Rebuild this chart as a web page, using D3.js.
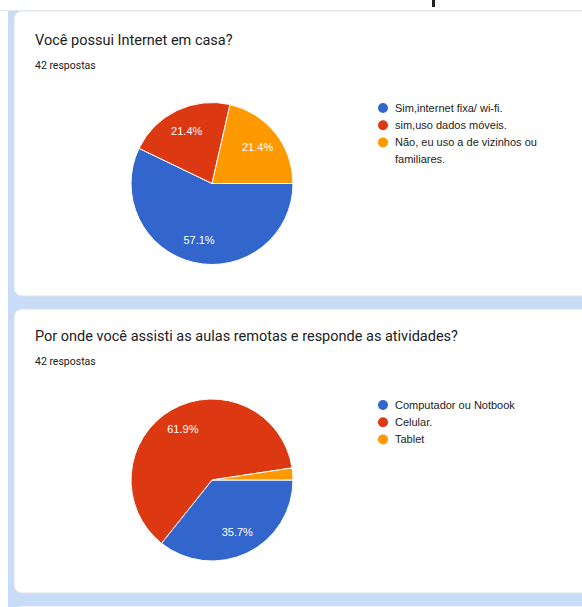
<!DOCTYPE html>
<html>
<head>
<meta charset="utf-8">
<script src="https://cdn.jsdelivr.net/npm/d3@7"></script>
<style>
  html, body { margin: 0; padding: 0; background: #ffffff; }
  svg { display: block; }
</style>
</head>
<body>
<svg id="chart" width="582" height="607"></svg>
<script>
// Survey answers (42 respostas each)
const titles = [
  "Você possui Internet em casa?",
  "Por onde você assisti as aulas remotas e responde as atividades?"
];
const responseLabel = "42 respostas";

const categoriesInternet = [
  ["Sim,internet fixa/ wi-fi."],
  ["sim,uso dados móveis."],
  ["Não, eu uso a de vizinhos ou", "familiares."]
];
const countsInternet = [24, 9, 9];

const categoriesDevice = [
  ["Computador ou Notbook"],
  ["Celular."],
  ["Tablet"]
];
const countsDevice = [15, 26, 1];

const palette = ["#3366cc", "#dc3912", "#ff9900"];

const svg = d3.select("#chart");
const W = 582, H = 607;

// page background and cards
svg.append("rect").attr("x", 8).attr("y", 11).attr("width", W).attr("height", H)
  .attr("fill", "#c9dcf7");

const cards = [
  { y: 11, h: 285 },
  { y: 309, h: 284 },
  { y: 606, h: 40 }
];
svg.selectAll("rect.card").data(cards).join("rect")
  .attr("class", "card")
  .attr("x", 14).attr("y", d => d.y)
  .attr("width", W).attr("height", d => d.h)
  .attr("rx", 8).attr("ry", 8)
  .attr("fill", "#ffffff")
  .attr("stroke", "#dde3ea").attr("stroke-width", 1);

// descender of the page heading, scrolled off above the first card
svg.append("rect").attr("x", 432).attr("y", 0).attr("width", 3).attr("height", 7)
  .attr("fill", "#202124");
svg.append("rect").attr("x", 0).attr("y", 10).attr("width", W).attr("height", 1)
  .attr("fill", "#e3e6ea");

function drawCard(cfg) {
  const g = svg.append("g");

  g.append("text")
    .attr("x", 35).attr("y", cfg.titleY)
    .attr("font-family", "Roboto, Arial, sans-serif")
    .attr("font-size", 14.5)
    .attr("fill", "#202124")
    .text(cfg.title);

  g.append("text")
    .attr("x", 35).attr("y", cfg.titleY + 24)
    .attr("font-family", "Roboto, Arial, sans-serif")
    .attr("font-size", 10.5)
    .attr("fill", "#202124")
    .text(responseLabel);

  const pie = d3.pie().sort(null)
    .startAngle(Math.PI / 2).endAngle(Math.PI / 2 + 2 * Math.PI);
  const arcs = pie(cfg.counts);
  const total = d3.sum(cfg.counts);
  const r = 81;
  const arc = d3.arc().innerRadius(0).outerRadius(r);
  const labelArc = d3.arc().innerRadius(r * 0.72).outerRadius(r * 0.72);

  const pg = g.append("g").attr("transform", `translate(${cfg.cx},${cfg.cy})`);
  pg.selectAll("path").data(arcs).join("path")
    .attr("d", arc)
    .attr("fill", (d, i) => palette[i])
    .attr("stroke", "#ffffff").attr("stroke-width", 1);

  pg.selectAll("text").data(arcs.filter(d => d.value / total > 0.05)).join("text")
    .attr("transform", d => `translate(${labelArc.centroid(d)})`)
    .attr("text-anchor", "middle")
    .attr("dy", "0.35em")
    .attr("font-family", "Arial, 'Liberation Sans', sans-serif")
    .attr("font-size", 11)
    .attr("fill", "#ffffff")
    .text(d => (d.value / total * 100).toFixed(1) + "%");

  // legend
  const lg = g.append("g").attr("transform", `translate(383,${cfg.legendY})`);
  let yOff = 0;
  cfg.categories.forEach((lines, i) => {
    lg.append("circle").attr("cx", 0).attr("cy", yOff).attr("r", 5)
      .attr("fill", palette[i]);
    lines.forEach((line, j) => {
      lg.append("text")
        .attr("x", 12).attr("y", yOff + j * 16.5)
        .attr("dy", "0.35em")
        .attr("font-family", "Arial, 'Liberation Sans', sans-serif")
        .attr("font-size", 11)
        .attr("fill", "#222222")
        .text(line);
    });
    yOff += 17.2 * lines.length;
  });
}

drawCard({ title: titles[0], titleY: 45, counts: countsInternet, categories: categoriesInternet,
           cx: 212, cy: 183.5, legendY: 108 });
drawCard({ title: titles[1], titleY: 341, counts: countsDevice, categories: categoriesDevice,
           cx: 212, cy: 480, legendY: 405 });
</script>
</body>
</html>
